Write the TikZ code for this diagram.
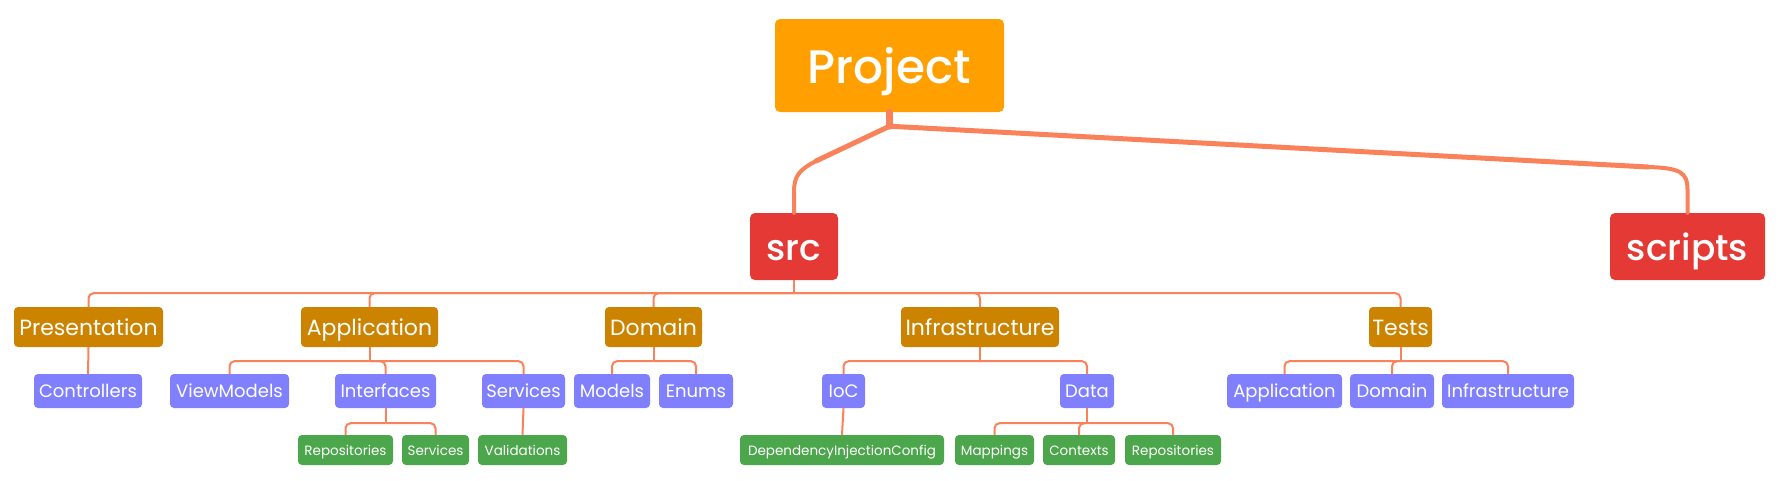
\documentclass[tikz,border=0pt]{standalone}
\usepackage{fontspec}
\setmainfont{Poppins}
\newfontfamily\medfont{Poppins Medium}
\definecolor{projorange}{HTML}{FFA000}
\definecolor{srcred}{HTML}{E53935}
\definecolor{gold}{HTML}{CC8400}
\definecolor{lavender}{HTML}{8080FF}
\definecolor{leaf}{HTML}{4CA64C}
\definecolor{coral}{HTML}{FA825A}
\tikzset{
  box/.style={rectangle, rounded corners=4pt, text=white, inner sep=0pt, align=center, text depth=0pt},
  root/.style={box, rounded corners=5pt, fill=projorange, minimum height=93pt, text height=35.7pt, font=\medfont\fontsize{47}{50}\selectfont},
  lvlone/.style={box, rounded corners=5pt, fill=srcred, minimum height=67pt, text height=27.4pt, font=\medfont\fontsize{36}{40}\selectfont},
  lvltwo/.style={box, fill=gold, minimum height=40pt, text height=16.7pt, font=\fontsize{22}{24}\selectfont},
  lvlthree/.style={box, fill=lavender, minimum height=34pt, text height=13.7pt, font=\fontsize{18}{20}\selectfont},
  lvlfour/.style={box, fill=leaf, minimum height=30pt, text height=10.3pt, font=\fontsize{13.5}{16}\selectfont},
  conn/.style={draw=coral, line width=2pt, rounded corners=5pt},
  trunk/.style={draw=coral, line cap=round, line join=round},
}
\begin{document}
\begin{tikzpicture}[x=1pt,y=-1pt]
\useasboundingbox (0,0) rectangle (1782,480);
% nodes
\node[root, minimum width=229pt] (project) at (889.5,65.5) {Project};
\node[lvlone, minimum width=88pt] (src) at (794,246.5) {src};
\node[lvlone, minimum width=155pt] (scripts) at (1687.5,246.5) {scripts};

\node[lvltwo, minimum width=149pt] (pres) at (88.5,327) {Presentation};
\node[lvltwo, minimum width=137pt] (app) at (369.5,327) {Application};
\node[lvltwo, minimum width=97pt] (dom) at (653.5,327) {Domain};
\node[lvltwo, minimum width=158pt] (infra) at (980,327) {Infrastructure};
\node[lvltwo, minimum width=63pt] (tests) at (1400.5,327) {Tests};

\node[lvlthree, minimum width=108pt] (ctrl) at (88,391) {Controllers};
\node[lvlthree, minimum width=119pt] (vm) at (229.5,391) {ViewModels};
\node[lvlthree, minimum width=101pt] (intf) at (385.5,391) {Interfaces};
\node[lvlthree, minimum width=83pt] (svc) at (523.5,391) {Services};
\node[lvlthree, minimum width=76pt] (models) at (612,391) {Models};
\node[lvlthree, minimum width=74pt] (enums) at (696,391) {Enums};
\node[lvlthree, minimum width=43pt] (ioc) at (843.5,391) {IoC};
\node[lvlthree, minimum width=54pt] (data) at (1087,391) {Data};
\node[lvlthree, minimum width=115pt] (tapp) at (1284.5,391) {Application};
\node[lvlthree, minimum width=84pt] (tdom) at (1392,391) {Domain};
\node[lvlthree, minimum width=132pt] (tinfra) at (1508,391) {Infrastructure};

\node[lvlfour, minimum width=95pt] (irepo) at (345.5,450) {Repositories};
\node[lvlfour, minimum width=67pt] (isvc) at (435.5,450) {Services};
\node[lvlfour, minimum width=89pt] (valid) at (522.5,450) {Validations};
\node[lvlfour, minimum width=204pt] (dic) at (842,450) {DependencyInjectionConfig};
\node[lvlfour, minimum width=79pt] (map) at (994.5,450) {Mappings};
\node[lvlfour, minimum width=72pt] (ctx) at (1079,450) {Contexts};
\node[lvlfour, minimum width=96pt] (drepo) at (1173,450) {Repositories};

% trunk from Project
\coordinate (junc) at ([yshift=-14pt]project.south);
\coordinate (srcbend) at (816,161);
\coordinate (scrbend) at (1648,167);
\draw[trunk, line width=7pt] (project.south) -- (junc);
\draw[trunk, line width=5pt] (junc) -- (srcbend);
\draw[trunk, line width=4pt] (srcbend) .. controls (799,170) and (794,176) .. (794,192) -- (src.north);
\draw[trunk, line width=5pt] (junc) -- (scrbend);
\draw[trunk, line width=4pt] (scrbend) .. controls (1680,168) and (1687.5,172) .. (1687.5,190) -- (scripts.north);

% src level
\coordinate (srcbus) at ([yshift=-13pt]src.south);
\draw[conn] (src.south) -- (srcbus);
\foreach \c in {pres,app,dom,infra,tests} \draw[conn] (srcbus) -| (\c.north);

\draw[conn] (pres.south) -- (ctrl.north);

\coordinate (appbus) at ([yshift=-14pt]app.south);
\draw[conn] (app.south) -- (appbus);
\foreach \c in {vm,intf,svc} \draw[conn] (appbus) -| (\c.north);

\coordinate (dombus) at ([yshift=-14pt]dom.south);
\draw[conn] (dom.south) -- (dombus);
\foreach \c in {models,enums} \draw[conn] (dombus) -| (\c.north);

\coordinate (infrabus) at ([yshift=-14pt]infra.south);
\draw[conn] (infra.south) -- (infrabus);
\foreach \c in {ioc,data} \draw[conn] (infrabus) -| (\c.north);

\coordinate (testsbus) at ([yshift=-14pt]tests.south);
\draw[conn] (tests.south) -- (testsbus);
\foreach \c in {tapp,tdom,tinfra} \draw[conn] (testsbus) -| (\c.north);

\coordinate (intfbus) at ([yshift=-15pt]intf.south);
\draw[conn] (intf.south) -- (intfbus);
\foreach \c in {irepo,isvc} \draw[conn] (intfbus) -| (\c.north);

\draw[conn] (svc.south) -- (valid.north);
\draw[conn] (ioc.south) -- (dic.north);

\coordinate (databus) at ([yshift=-15pt]data.south);
\draw[conn] (data.south) -- (databus);
\foreach \c in {map,ctx,drepo} \draw[conn] (databus) -| (\c.north);
\end{tikzpicture}
\end{document}
